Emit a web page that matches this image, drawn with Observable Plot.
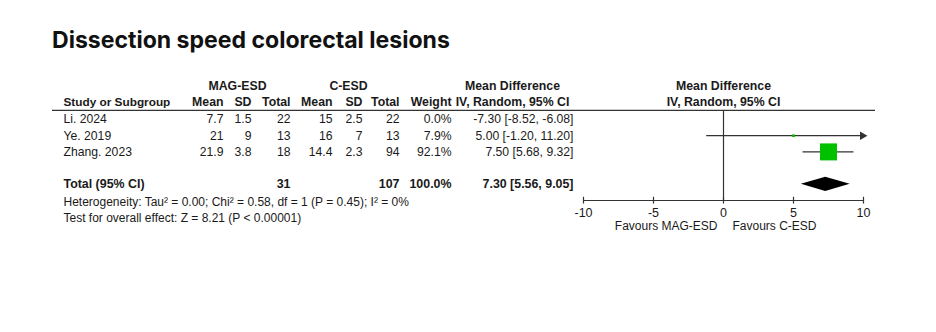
<!DOCTYPE html>
<html>
<head>
<meta charset="utf-8">
<script src="https://cdn.jsdelivr.net/npm/d3@7"></script>
<script src="https://cdn.jsdelivr.net/npm/@observablehq/plot@0.6"></script>
<style>
  body { margin: 0; background: #fff; width: 936px; height: 332px; overflow: hidden; }
  #title { height: 62px; box-sizing: border-box; padding: 27px 0 0 52px; font-family: Inter, Lato, sans-serif; font-weight: 700; font-size: 21px; color: #111; line-height: 26px; white-space: nowrap; }
  #chart svg { display: block; }
</style>
</head>
<body>
<div id="title">Dissection speed colorectal lesions</div>
<div id="chart"></div>
<script>
// ---- data ----
const studies = ["Li. 2024", "Ye. 2019", "Zhang. 2023"];
const magMean = ["7.7", "21", "21.9"];
const magSD = ["1.5", "9", "3.8"];
const magTotal = [22, 13, 18];
const cMean = ["15", "16", "14.4"];
const cSD = ["2.5", "7", "2.3"];
const cTotal = [22, 13, 94];
const weight = [0.0, 7.9, 92.1];
const md = [-7.30, 5.00, 7.50];
const ciLo = [-8.52, -1.20, 5.68];
const ciHi = [-6.08, 11.20, 9.32];
const totalMag = 31;
const totalC = 107;
const totalWeight = 100.0;
const totalMD = 7.30;
const totalLo = 5.56;
const totalHi = 9.05;
const xTicks = [-10, -5, 0, 5, 10];
const heterogeneity = "Heterogeneity: Tau\u00b2 = 0.00; Chi\u00b2 = 0.58, df = 1 (P = 0.45); I\u00b2 = 0%";
const overallTest = "Test for overall effect: Z = 8.21 (P < 0.00001)";
const favLeft = "Favours MAG-ESD";
const favRight = "Favours C-ESD";

// ---- title sizing (fit the reference title width) ----
(function fitTitle() {
  const el = document.getElementById("title");
  const ctx = document.createElement("canvas").getContext("2d");
  ctx.font = "700 21px Inter, Lato, sans-serif";
  const w = ctx.measureText(el.textContent).width;
  if (w > 0) el.style.fontSize = Math.max(18, Math.min(24, 21 * 398 / w)).toFixed(2) + "px";
})();

// ---- layout (pixels / row units) ----
const L = 52;            // frame left
const col = { study: 63, magMean: 223, magSD: 251, magTotal: 290, cMean: 332, cSD: 362, cTotal: 399, weight: 451, ci: 573, magHead: 237, cHead: 348, mdHead: 512 };
const ROW = { head1: -2.05, head2: -1.05, line: -0.56, total: 4, het: 5.1, test: 6.1, axis: 5.0, tickLab: 5.77, fav: 6.56 };
const ink = "#1a1a1a";
const lineCol = "#333";
const green = "#00c000";
const FS = { data: 12.2, head: 12.3, studyHead: 11.8, total: 12.4, foot: 12, tick: 12.5, fav: 12 };

const fmtCI = (m, l, h) => `${m.toFixed(2)} [${l.toFixed(2)}, ${h.toFixed(2)}]`;
const rows = studies.map((s, i) => ({
  study: s, row: i, magMean: magMean[i], magSD: magSD[i], magTotal: magTotal[i],
  cMean: cMean[i], cSD: cSD[i], cTotal: cTotal[i], weight: weight[i],
  md: md[i], lo: ciLo[i], hi: ciHi[i]
}));
const drawn = rows.filter(d => d.weight > 0);
const xMin = xTicks[0], xMax = xTicks[xTicks.length - 1];

const colText = (data, key, text, opts = {}) => Plot.text(data, {
  y: "row", text, frameAnchor: "left", dx: col[key] - L, textAnchor: "end", fill: ink, fontSize: FS.data, ...opts
});

const headerRows = [
  {row: ROW.head1, t: "MAG-ESD", k: "magHead"},
  {row: ROW.head1, t: "C-ESD", k: "cHead"},
  {row: ROW.head1, t: "Mean Difference", k: "mdHead"},
  {row: ROW.head2, t: "IV, Random, 95% CI", k: "mdHead"}
];
const subHeads = [
  ["Mean", "magMean"], ["SD", "magSD"], ["Total", "magTotal"],
  ["Mean", "cMean"], ["SD", "cSD"], ["Total", "cTotal"],
  ["Weight", "weight"]
];

const diamond = [
  {x: totalLo, y1: ROW.total, y2: ROW.total},
  {x: totalMD, y1: ROW.total - 0.44, y2: ROW.total + 0.44},
  {x: totalHi, y1: ROW.total, y2: ROW.total}
];

const bold = {fontWeight: "bold"};
const marks = [
  // header texts
  ...headerRows.map(h => Plot.text([h], {y: "row", text: "t", frameAnchor: "left", dx: col[h.k] - L, textAnchor: "middle", fill: ink, fontSize: FS.head, ...bold})),
  Plot.text([{row: ROW.head2}], {y: "row", text: () => "Study or Subgroup", frameAnchor: "left", dx: col.study - L, textAnchor: "start", fill: ink, fontSize: FS.studyHead, ...bold}),
  ...subHeads.map(([t, k]) => colText([{row: ROW.head2}], k, () => t, {fontSize: FS.head, ...bold})),
  Plot.text([{row: ROW.head1, x: 0, t: "Mean Difference"}, {row: ROW.head2, x: 0, t: "IV, Random, 95% CI"}], {x: "x", y: "row", text: "t", fill: ink, fontSize: FS.head, ...bold}),
  // header line
  Plot.ruleY([ROW.line], {stroke: lineCol, strokeWidth: 1.2}),
  // study rows
  Plot.text(rows, {y: "row", text: "study", frameAnchor: "left", dx: col.study - L, textAnchor: "start", fill: ink, fontSize: FS.data}),
  colText(rows, "magMean", "magMean"),
  colText(rows, "magSD", "magSD"),
  colText(rows, "magTotal", "magTotal"),
  colText(rows, "cMean", "cMean"),
  colText(rows, "cSD", "cSD"),
  colText(rows, "cTotal", "cTotal"),
  colText(rows, "weight", d => d.weight.toFixed(1) + "%"),
  colText(rows, "ci", d => fmtCI(d.md, d.lo, d.hi)),
  // total row
  Plot.text([{row: ROW.total}], {y: "row", text: () => "Total (95% CI)", frameAnchor: "left", dx: col.study - L, textAnchor: "start", fill: ink, fontSize: FS.total, ...bold}),
  colText([{row: ROW.total}], "magTotal", () => String(totalMag), {fontSize: FS.total, ...bold}),
  colText([{row: ROW.total}], "cTotal", () => String(totalC), {fontSize: FS.total, ...bold}),
  colText([{row: ROW.total}], "weight", () => totalWeight.toFixed(1) + "%", {fontSize: FS.total, ...bold}),
  colText([{row: ROW.total}], "ci", () => fmtCI(totalMD, totalLo, totalHi), {fontSize: FS.total, ...bold}),
  Plot.text([{row: ROW.het, t: heterogeneity}, {row: ROW.test, t: overallTest}], {y: "row", text: "t", frameAnchor: "left", dx: col.study - L, textAnchor: "start", fill: ink, fontSize: FS.foot}),
  // forest plot
  Plot.ruleX([0], {y1: ROW.line, y2: ROW.axis, stroke: lineCol, strokeWidth: 1.2}),
  Plot.ruleY(drawn, {y: "row", x1: "lo", x2: d => Math.min(d.hi, xMax), stroke: lineCol, strokeWidth: 1.2}),
  Plot.dot(drawn.filter(d => d.hi > xMax), {x: () => xMax, y: "row", symbol: "triangle", rotate: 90, r: 3.2, dx: -1, fill: lineCol, stroke: null}),
  Plot.dot(drawn, {x: "md", y: "row", r: "weight", symbol: "square", fill: green, stroke: null}),
  Plot.areaY(diamond, {x: "x", y1: "y1", y2: "y2", fill: "#000", curve: "linear"}),
  // axis
  Plot.ruleY([ROW.axis], {x1: xMin, x2: xMax, stroke: lineCol, strokeWidth: 1.2}),
  Plot.ruleX(xTicks, {x: d => d, y1: ROW.axis - 0.2, y2: ROW.axis + 0.22, stroke: lineCol, strokeWidth: 1.2}),
  Plot.text(xTicks, {x: d => d, y: () => ROW.tickLab, text: d => String(d), fill: ink, fontSize: FS.tick,
    textAnchor: d => d === xMin ? "start" : d === xMax ? "end" : "middle"}),
  Plot.text([{x: 0, row: ROW.fav}], {x: "x", y: "row", text: () => favLeft, textAnchor: "end", dx: -6, fill: ink, fontSize: FS.fav}),
  Plot.text([{x: 0, row: ROW.fav}], {x: "x", y: "row", text: () => favRight, textAnchor: "start", dx: 9, fill: ink, fontSize: FS.fav})
];

const chart = Plot.plot({
  width: 936,
  height: 270,
  marginLeft: L,
  marginRight: 61,
  marginTop: 0,
  marginBottom: 0,
  style: {fontFamily: "'Liberation Sans', Arial, sans-serif", fontSize: "11px", background: "#fff"},
  x: {domain: [xMin, xMax], range: [583, 863], axis: null},
  y: {domain: [0, 10], range: [57, 219], axis: null},
  r: {type: "pow", exponent: 0.75, domain: [0, 92.1], range: [0, 9.6]},
  marks
});
document.getElementById("chart").appendChild(chart);
</script>
</body>
</html>
